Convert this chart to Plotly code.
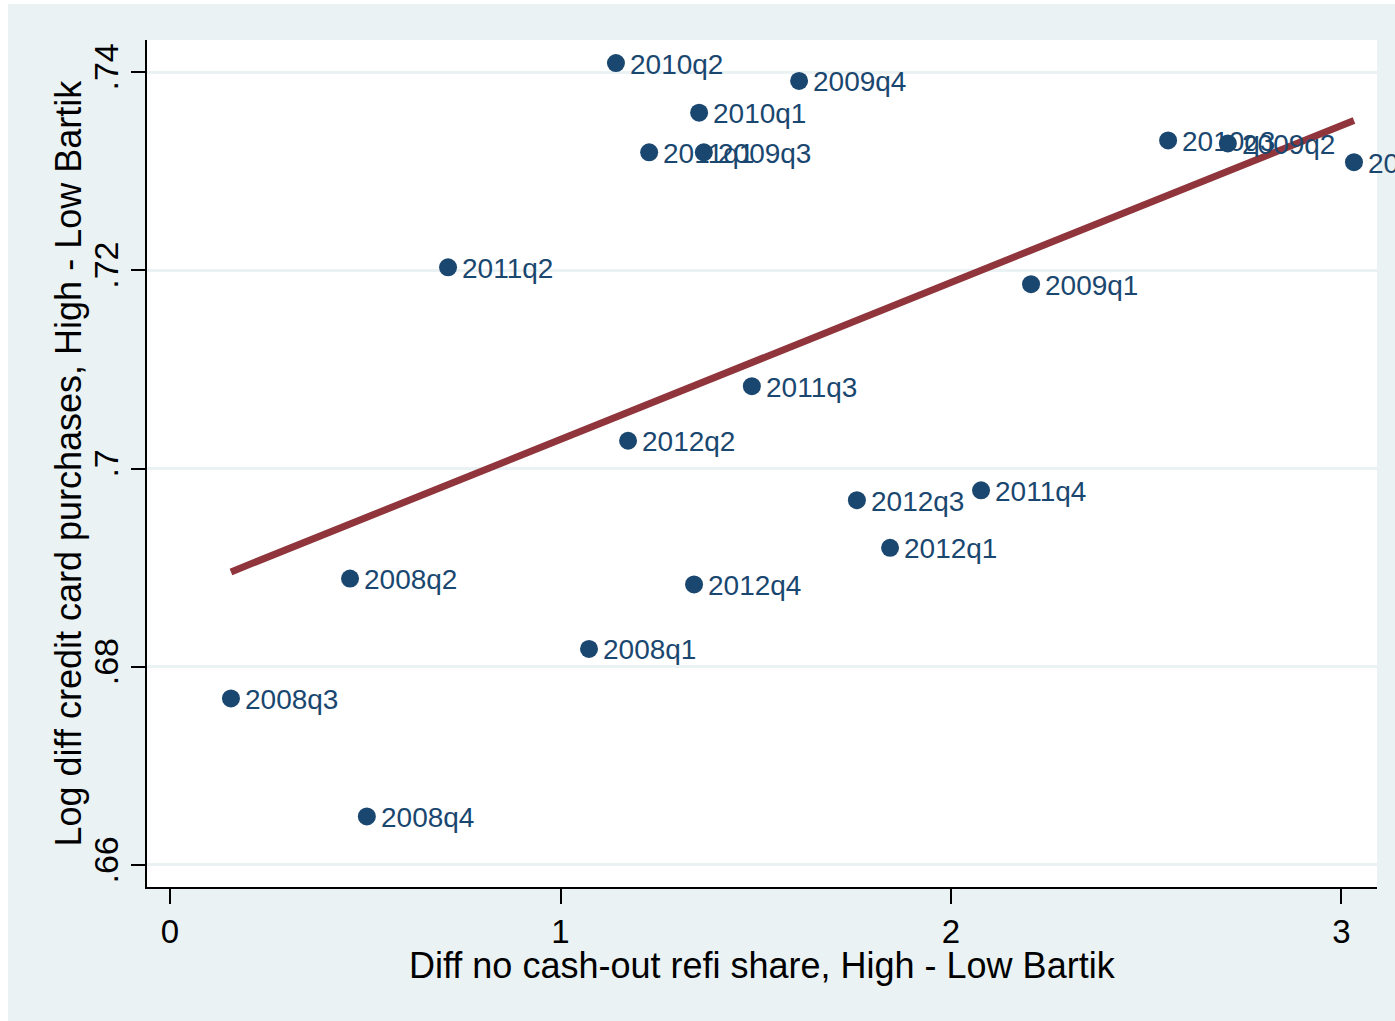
import numpy as np
import plotly.graph_objects as go

labels = ["2008q1", "2008q2", "2008q3", "2008q4",
          "2009q1", "2009q2", "2009q3", "2009q4",
          "2010q1", "2010q2", "2010q3", "2010q4",
          "2011q1", "2011q2", "2011q3", "2011q4",
          "2012q1", "2012q2", "2012q3", "2012q4"]
x_refi = [1.073, 0.461, 0.156, 0.504,
          2.205, 2.709, 1.367, 1.611,
          1.355, 1.142, 2.556, 3.032,
          1.227, 0.712, 1.490, 2.077,
          1.844, 1.173, 1.759, 1.342]
y_purch = [0.6818, 0.6889, 0.6768, 0.6649,
           0.7186, 0.7328, 0.7319, 0.7391,
           0.7359, 0.7409, 0.7331, 0.7309,
           0.7319, 0.7203, 0.7083, 0.6978,
           0.6920, 0.7028, 0.6968, 0.6883]

x_ticks = [0, 1, 2, 3]
x_ticktext = ["0", "1", "2", "3"]
y_ticks = [0.66, 0.68, 0.70, 0.72, 0.74]
y_ticktext = [".66", ".68", ".7", ".72", ".74"]

x_title = "Diff no cash-out refi share, High - Low Bartik"
y_title = "Log diff credit card purchases, High - Low Bartik"

NAVY = "#1a476f"
MAROON = "#90353b"
BG = "#eaf2f3"
FONT = "Liberation Sans, Arial, sans-serif"

xa = np.array(x_refi)
ya = np.array(y_purch)
slope, intercept = np.polyfit(xa, ya, 1)
fx = np.array([xa.min(), xa.max()])
fy = intercept + slope * fx

fig = go.Figure()
fig.add_trace(go.Scatter(
    x=x_refi, y=y_purch, mode="markers",
    marker=dict(size=18, color=NAVY, line=dict(width=0)),
    cliponaxis=False, showlegend=False, hoverinfo="skip"))
fig.add_trace(go.Scatter(
    x=fx, y=fy, mode="lines",
    line=dict(color=MAROON, width=7),
    showlegend=False, hoverinfo="skip"))

annotations = []
for lx, ly, lt in zip(x_refi, y_purch, labels):
    annotations.append(dict(
        x=lx, y=ly, xref="x", yref="y", text=lt, showarrow=False,
        xanchor="left", yanchor="middle", xshift=12, yshift=-1,
        font=dict(family=FONT, size=28, color=NAVY)))
annotations.append(dict(
    x=0.5, y=(887 - 965) / 847, xref="paper", yref="paper", text=x_title,
    showarrow=False, xanchor="center", yanchor="middle",
    font=dict(family=FONT, size=36, color="black")))
annotations.append(dict(
    x=(68 - 147) / 1230, y=0.5, xref="paper", yref="paper", text=y_title,
    showarrow=False, xanchor="center", yanchor="middle", textangle=-90,
    font=dict(family=FONT, size=36, color="black")))

fig.update_layout(
    width=1395, height=1021,
    margin=dict(l=147, r=18, t=40, b=134),
    paper_bgcolor=BG, plot_bgcolor="white",
    font=dict(family=FONT, color="black"),
    annotations=annotations,
    shapes=[
        dict(type="rect", xref="paper", yref="paper",
             x0=-0.2, x1=(8 - 147) / 1230, y0=-0.2, y1=1.1,
             fillcolor="white", line=dict(width=0), layer="below"),
        dict(type="rect", xref="paper", yref="paper",
             x0=-0.2, x1=1.1, y0=(887 - 4) / 847, y1=1.1,
             fillcolor="white", line=dict(width=0), layer="below"),
    ],
)
fig.update_xaxes(
    range=[-0.059, 3.091], tickvals=x_ticks, ticktext=x_ticktext,
    showgrid=False, zeroline=False,
    showline=True, linecolor="black", linewidth=1.5,
    ticks="outside", ticklen=15, tickwidth=1.5, tickcolor="black",
    tickfont=dict(size=33, family=FONT, color="black"),
    automargin=False,
)
fig.update_yaxes(
    range=[0.65778, 0.74323], tickvals=y_ticks, ticktext=y_ticktext,
    showgrid=True, gridcolor=BG, gridwidth=2.5, zeroline=False,
    showline=True, linecolor="black", linewidth=1.5,
    ticks="outside", ticklen=14, tickwidth=1.5, tickcolor="black",
    tickangle=-90,
    tickfont=dict(size=34, family=FONT, color="black"),
    automargin=False,
)

fig.write_html("out.html")
